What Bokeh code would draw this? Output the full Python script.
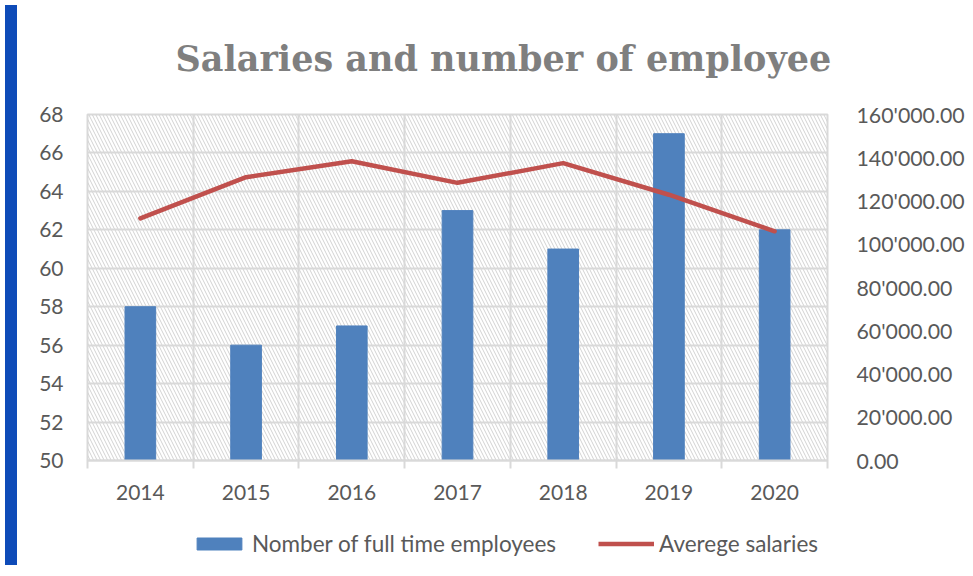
from bokeh.plotting import figure
from bokeh.models import (Range1d, LinearAxis, FixedTicker, Legend, LegendItem,
                          BoxAnnotation, Div, ColumnDataSource)
from bokeh.layouts import row, column
from bokeh.embed import file_html
from bokeh.resources import INLINE

years = ["2014", "2015", "2016", "2017", "2018", "2019", "2020"]
employees = [58, 56, 57, 63, 61, 67, 62]
salaries = [112000, 131000, 138400, 128400, 137500, 122900, 106000]
left_ticks = list(range(50, 70, 2))
right_ticks = list(range(0, 180000, 20000))

xs = [i + 0.5 for i in range(len(years))]
src = ColumnDataSource(dict(x=xs, year=years, emp=employees, sal=salaries))

GRID = "#d9d9d9"
TXT = "#595959"
FONT = "Lato"
BAR = "#4f81bd"
LINE = "#c0504d"

p = figure(width=945, height=512, output_backend="svg", toolbar_location=None,
           x_range=Range1d(0, len(years)), y_range=Range1d(left_ticks[0], left_ticks[-1]),
           min_border_left=65, min_border_right=132, min_border_top=111,
           min_border_bottom=52, background_fill_color="white",
           border_fill_color="white")
p.extra_y_ranges = {"sal": Range1d(right_ticks[0], right_ticks[-1])}
p.outline_line_color = GRID
p.outline_line_width = 2

p.title.text = "Salaries and number of employee"
p.title.text_font = "DejaVu Serif"
p.title.text_font_style = "bold"
p.title.text_font_size = "35px"
p.title.text_color = "#7f7f7f"
p.title.align = "left"
p.title.offset = 88
p.title.standoff = 71

hatch = BoxAnnotation(fill_alpha=0, line_alpha=0, hatch_pattern="\\",
                      hatch_color="#d2d2d2", hatch_scale=7, hatch_weight=1,
                      level="image")
p.add_layout(hatch)

p.xgrid.ticker = FixedTicker(ticks=list(range(len(years) + 1)))
p.ygrid.ticker = FixedTicker(ticks=left_ticks)
for g in (p.xgrid, p.ygrid):
    g.grid_line_color = GRID
    g.grid_line_width = 2

bars = p.vbar(x="x", top="emp", bottom=left_ticks[0], width=0.29, source=src,
              fill_color=BAR, line_color=BAR)
line = p.line(x="x", y="sal", source=src, y_range_name="sal",
              line_color=LINE, line_width=4.5, line_cap="round", line_join="round")

xa = p.xaxis[0]
xa.ticker = FixedTicker(ticks=xs, minor_ticks=list(range(len(years) + 1)))
xa.major_label_overrides = {x: y for x, y in zip(xs, years)}
xa.axis_line_color = GRID
xa.axis_line_width = 2
xa.major_tick_line_color = None
xa.minor_tick_line_color = GRID
xa.minor_tick_line_width = 2
xa.minor_tick_in = 0
xa.minor_tick_out = 8
xa.major_label_standoff = 16

ya = p.yaxis[0]
ya.ticker = FixedTicker(ticks=left_ticks)
ya.major_label_standoff = 18

ra = LinearAxis(y_range_name="sal", ticker=FixedTicker(ticks=right_ticks),
                major_label_overrides={v: f"{v:,.2f}".replace(",", "'") for v in right_ticks})
ra.major_label_standoff = 23
p.add_layout(ra, "right")

for ax in (xa, ya):
    ax.major_label_text_font = FONT
    ax.major_label_text_font_size = "21px"
    ax.major_label_text_color = TXT
ra.major_label_text_font = FONT
ra.major_label_text_font_size = "21.3px"
ra.major_label_text_color = TXT
for ax in (ya, ra):
    ax.axis_line_color = None
    ax.major_tick_line_color = None
    ax.minor_tick_line_color = None

# legend strip below the chart (same series, hidden glyphs, legend only)
pl = figure(width=945, height=48, output_backend="svg", toolbar_location=None,
            x_range=Range1d(0, len(years)), y_range=Range1d(left_ticks[0], left_ticks[-1]),
            x_axis_type=None, y_axis_type=None, min_border=0,
            background_fill_color="white", border_fill_color="white")
pl.outline_line_color = None
pl.xgrid.visible = False
pl.ygrid.visible = False
lb = pl.vbar(x="x", top="emp", bottom=left_ticks[0], width=0.29, source=src,
             fill_color=BAR, line_color=BAR, visible=False)
ll = pl.line(x="x", y="sal", source=src, line_color=LINE, line_width=4.5, visible=False)

legend = Legend(items=[LegendItem(label="Nomber of full time employees", renderers=[lb]),
                       LegendItem(label="Averege salaries", renderers=[ll])],
                orientation="horizontal", location=(104, 3),
                glyph_width=56, glyph_height=15, spacing=42, label_standoff=5,
                border_line_alpha=0, background_fill_alpha=0,
                inactive_fill_alpha=0,
                label_text_font=FONT, label_text_font_size="22.5px",
                label_text_color=TXT, padding=0, margin=0)
pl.add_layout(legend)

strip = Div(width=12, height=560, styles={"background-color": "#0e4bb8"})
layout = row(strip, column(p, pl, spacing=0), spacing=0)

open("out.html", "w").write(file_html(layout, INLINE))
